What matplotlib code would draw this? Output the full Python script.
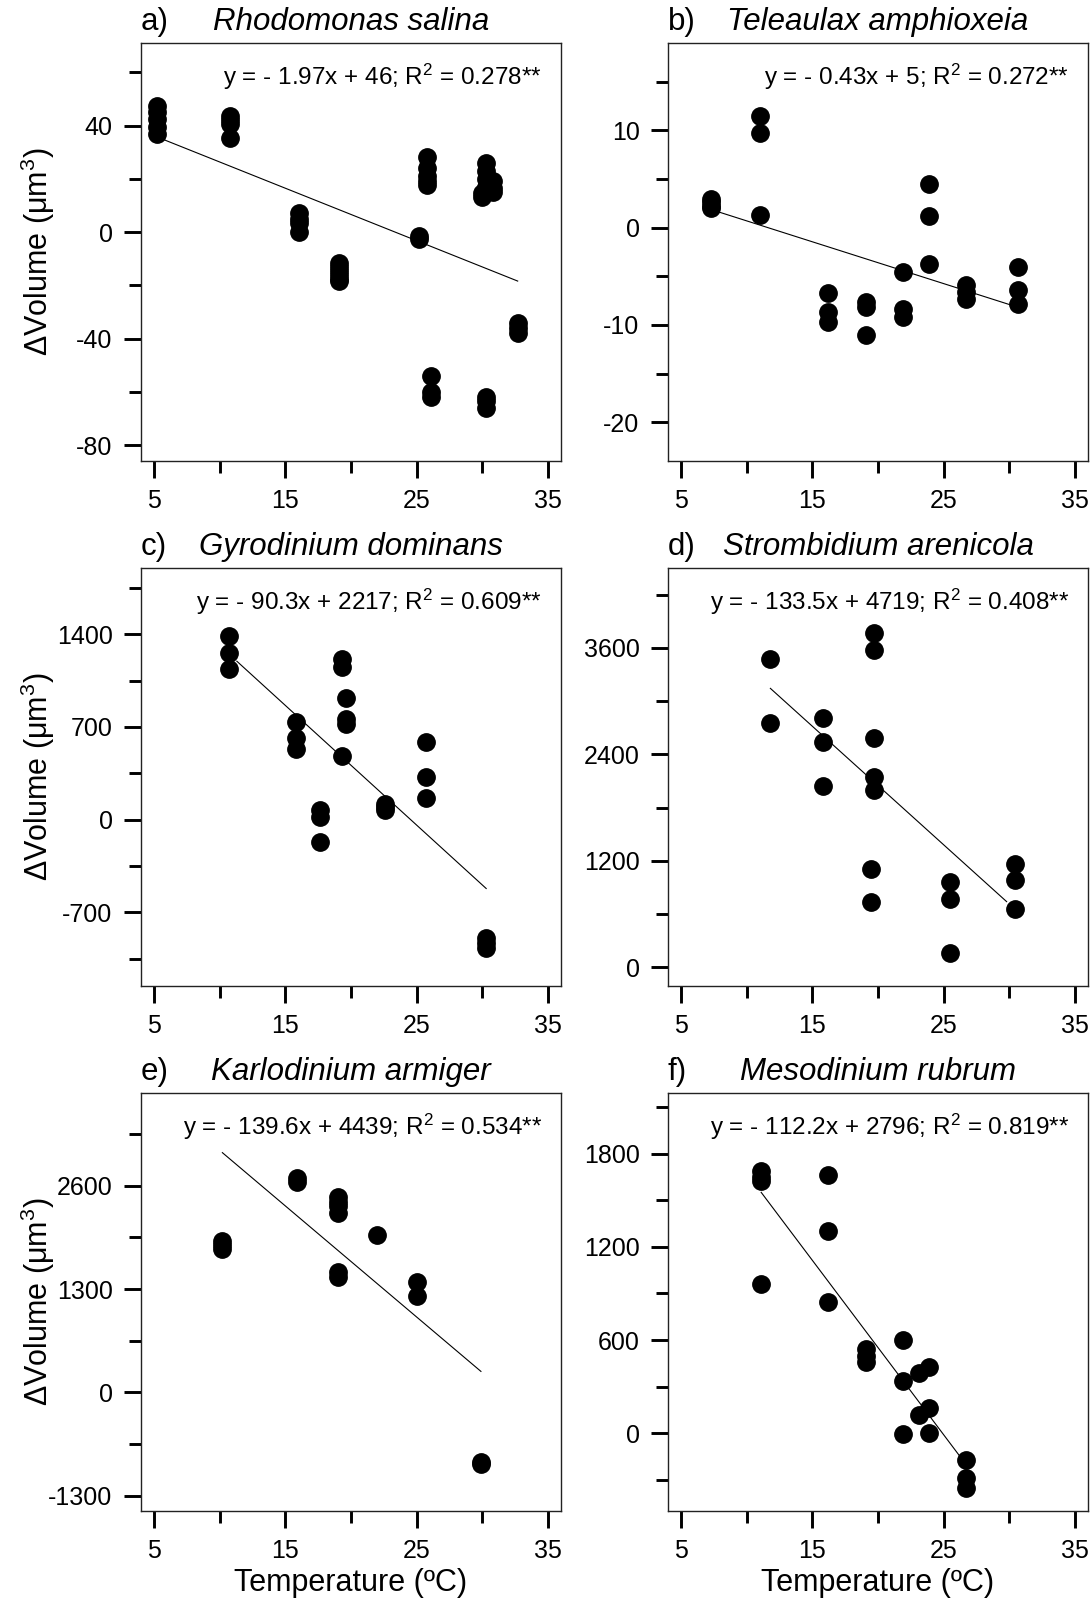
import matplotlib
matplotlib.use('Agg')
import matplotlib.pyplot as plt
from matplotlib.ticker import MultipleLocator

plt.rcParams['font.family'] = ['Liberation Sans', 'DejaVu Sans']
plt.rcParams['mathtext.fontset'] = 'custom'
plt.rcParams['mathtext.rm'] = 'Liberation Sans'
plt.rcParams['mathtext.it'] = 'Liberation Sans:italic'
plt.rcParams['axes.unicode_minus'] = False

# panel data: temperature (ºC) and change in cell volume (µm3)
a_temp = [5.2, 5.2, 5.2, 5.2, 5.2, 10.8, 10.8, 10.8, 10.8, 16.0, 16.0, 16.0, 16.0,
          19.1, 19.1, 19.1, 19.1, 19.1, 19.1, 25.2, 25.2, 25.8, 25.8, 25.8, 25.8, 25.8,
          26.1, 26.1, 26.1, 30.0, 30.0, 30.3, 30.3, 30.3, 30.3, 30.8, 30.8, 30.8,
          30.3, 30.3, 30.3, 32.7, 32.7, 32.7]
a_dvol = [47.5, 45, 42.5, 39.5, 37, 43.5, 42, 40.5, 35.5, 7, 5, 3.5, 0,
          -11.5, -13, -14.5, -16, -17.5, -18.5, -1.5, -2.5, 28, 24, 21, 19, 17.5,
          -54, -60, -62, 13, 14.5, 26, 23, 20, 17, 19, 16.5, 15,
          -62, -63.5, -66, -34, -36, -38]

b_temp = [7.3, 7.3, 7.3, 7.3, 11.0, 11.0, 11.0, 16.2, 16.2, 16.2, 19.1, 19.1, 19.1,
          21.9, 21.9, 21.9, 23.9, 23.9, 23.9, 26.7, 26.7, 26.7, 30.7, 30.7, 30.7]
b_dvol = [3.0, 2.6, 2.2, 2.0, 11.5, 9.7, 1.3, -6.7, -8.7, -9.7, -7.6, -8.2, -11.0,
          -4.6, -8.4, -9.2, 4.5, 1.2, -3.7, -5.9, -6.6, -7.3, -4.0, -6.4, -7.8]

c_temp = [10.7, 10.7, 10.7, 15.8, 15.8, 15.8, 17.6, 17.6, 17.6, 19.3, 19.3, 19.3,
          19.6, 19.6, 19.6, 22.6, 22.6, 22.6, 25.7, 25.7, 25.7, 30.3, 30.3, 30.3]
c_dvol = [1390, 1260, 1140, 735, 620, 535, 75, 20, -168, 1210, 1150, 484,
          918, 760, 720, 120, 95, 70, 590, 320, 165, -895, -930, -970]

d_temp = [11.8, 11.8, 15.8, 15.8, 15.8, 19.7, 19.7, 19.7, 19.7, 19.7, 19.5, 19.5,
          25.5, 25.5, 25.5, 30.4, 30.4, 30.4]
d_dvol = [3470, 2750, 2810, 2545, 2045, 3770, 3580, 2580, 2150, 2000, 1110, 740,
          960, 775, 165, 1165, 990, 660]

e_temp = [10.15, 10.15, 10.15, 15.9, 15.9, 19.0, 19.0, 19.0, 19.0, 19.0, 19.0,
          22.0, 25.0, 25.0, 29.9, 29.9]
e_dvol = [1900, 1850, 1805, 2700, 2650, 2460, 2400, 2340, 2260, 1515, 1450,
          1975, 1390, 1210, -870, -900]

f_temp = [11.1, 11.1, 11.1, 11.1, 16.2, 16.2, 16.2, 19.1, 19.1, 19.1, 21.9, 21.9, 21.9,
          23.1, 23.1, 23.9, 23.9, 23.9, 26.7, 26.7, 26.7]
f_dvol = [1690, 1650, 1625, 960, 1660, 1305, 845, 540, 500, 460, 600, 335, -5,
          390, 120, 425, 160, 5, -175, -290, -350]

letters = ['a)', 'b)', 'c)', 'd)', 'e)', 'f)']
species = ['Rhodomonas salina', 'Teleaulax amphioxeia', 'Gyrodinium dominans',
           'Strombidium arenicola', 'Karlodinium armiger', 'Mesodinium rubrum']
slopes = [-1.97, -0.43, -90.3, -133.5, -139.6, -112.2]
intercepts = [46, 5, 2217, 4719, 4439, 2796]
r2 = [0.278, 0.272, 0.609, 0.408, 0.534, 0.819]
fit_start = [5.5, 7.7, 11.3, 11.8, 10.2, 11.1]
fit_end = [32.7, 30.6, 30.3, 29.8, 29.9, 26.4]

ylims = [(-86, 71), (-24, 19), (-1255, 1900), (-210, 4500), (-1490, 3765), (-500, 2190)]
ymajor = [40, 10, 700, 1200, 1300, 600]

temps = [a_temp, b_temp, c_temp, d_temp, e_temp, f_temp]
dvols = [a_dvol, b_dvol, c_dvol, d_dvol, e_dvol, f_dvol]

fig = plt.figure(figsize=(10.92, 15.99), dpi=100)
W, H = 1092.0, 1599.0
lefts = [141, 668]
tops = [43, 568, 1093]
aw, ah = 420, 418

for i in range(6):
    r, c = divmod(i, 2)
    ax = fig.add_axes([lefts[c] / W, 1 - (tops[r] + ah) / H, aw / W, ah / H])
    ax.plot(temps[i], dvols[i], 'o', color='black', ms=12.5, mec='black', zorder=3)
    xs = [fit_start[i], fit_end[i]]
    ax.plot(xs, [slopes[i] * x + intercepts[i] for x in xs], color='black', lw=0.8, zorder=2)

    ax.set_xlim(4, 36)
    ax.set_ylim(*ylims[i])
    ax.xaxis.set_major_locator(MultipleLocator(10, offset=5))
    ax.xaxis.set_minor_locator(MultipleLocator(5))
    ax.yaxis.set_major_locator(MultipleLocator(ymajor[i]))
    ax.yaxis.set_minor_locator(MultipleLocator(ymajor[i] / 2))
    ax.tick_params(which='major', direction='out', length=12, width=2.1, labelsize=18)
    ax.tick_params(which='minor', direction='out', length=8.4, width=2.1)
    ax.tick_params(axis='x', which='major', pad=8)
    ax.tick_params(axis='y', which='major', pad=8.5)
    for s in ax.spines.values():
        s.set_linewidth(1.0)
        s.set_color('#222222')

    eq = 'y = - %gx + %d; R$^{2}$ = %.3f**' % (abs(slopes[i]), intercepts[i], r2[i])
    ax.text(0.955, 0.9, eq, transform=ax.transAxes, ha='right', va='baseline', fontsize=17.5)
    ax.text(0.0, 1.015, letters[i], transform=ax.transAxes, ha='left', va='bottom', fontsize=22.5)
    ax.text(0.5, 1.015, species[i], transform=ax.transAxes, ha='center', va='bottom',
            fontsize=22.5, style='italic')

    if c == 0:
        ax.set_ylabel('ΔVolume (μm$^{3}$)', fontsize=22)
        ax.yaxis.set_label_coords(-0.2, 0.5)
    if r == 2:
        ax.set_xlabel('Temperature (ºC)', fontsize=22, labelpad=4)

fig.savefig('out.png', dpi=100)
